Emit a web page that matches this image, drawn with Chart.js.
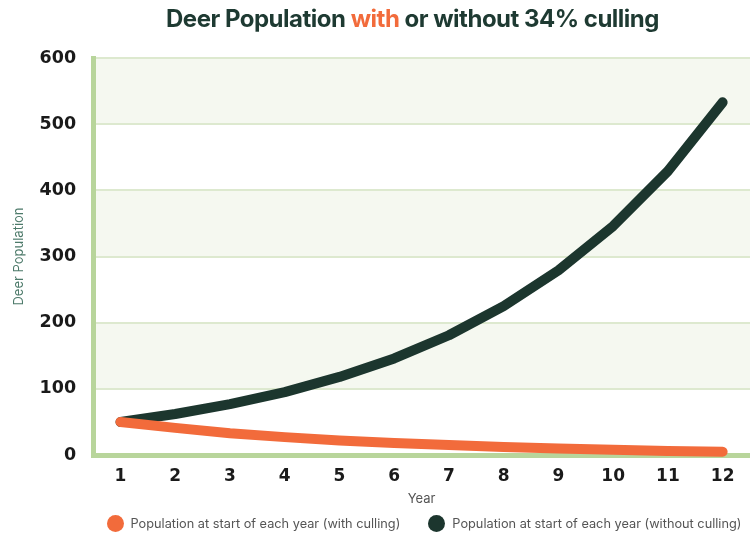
<!DOCTYPE html>
<html>
<head>
<meta charset="utf-8">
<script src="https://cdn.jsdelivr.net/npm/chart.js@4.4.1/dist/chart.umd.min.js"></script>
<style>
  body { margin: 0; background: #fff; }
  #wrap { position: relative; width: 750px; height: 535px; overflow: hidden; }
  #title {
    position: absolute; top: 4px; left: 80px; width: 665px; text-align: center;
    font: bold 24px Inter, "DejaVu Sans", sans-serif; color: #1e3a32; letter-spacing: -0.5px;
  }
  #title span { color: #f26b3b; }
  canvas { position: absolute; top: 0; left: 0; }
  #legend {
    position: absolute; top: 515px; left: 96px; width: 656px;
    display: flex; justify-content: center; gap: 28px;
    font: 12.75px Inter, "DejaVu Sans", sans-serif; color: #555;
  }
  #legend .item { display: flex; align-items: center; white-space: nowrap; }
  #legend .dot { width: 17px; height: 17px; border-radius: 50%; margin-right: 7px; }
</style>
</head>
<body>
<div id="wrap">
  <canvas id="deerChart" width="750" height="535"></canvas>
  <div id="title">Deer Population <span>with</span> or without 34% culling</div>
  <div id="legend"></div>
</div>
<script>
// chart data
const years = ["1", "2", "3", "4", "5", "6", "7", "8", "9", "10", "11", "12"];
const withCulling = [50, 41, 33, 27, 22, 18, 15, 12, 10, 8, 6, 5];
const withoutCulling = [50, 62, 77, 95, 118, 146, 181, 225, 279, 346, 429, 533];
const seriesLabels = [
  "Population at start of each year (with culling)",
  "Population at start of each year (without culling)"
];

const orange = "#f26b3b";
const darkGreen = "#1c362e";
const axisGreen = "#b8d59b";
const gridGreen = "#dde9cf";
const bandGreen = "#f5f8f0";
const smallFont = "Inter, 'DejaVu Sans', sans-serif";

// alternating background bands behind the plot
const bands = {
  id: "bands",
  beforeDraw(chart) {
    const { ctx, chartArea, scales } = chart;
    const y = scales.y;
    ctx.save();
    ctx.fillStyle = bandGreen;
    for (let v = 100; v < 600; v += 200) {
      const top = y.getPixelForValue(v + 100);
      const bottom = y.getPixelForValue(v);
      ctx.fillRect(chartArea.left, top, chartArea.right - chartArea.left, bottom - top);
    }
    ctx.restore();
  }
};

function lineSet(label, data, color) {
  return {
    label: label,
    data: data,
    borderColor: color,
    backgroundColor: color,
    borderWidth: 10,
    borderCapStyle: "round",
    borderJoinStyle: "round",
    pointRadius: 0,
    tension: 0,
    clip: false
  };
}

const chart = new Chart(document.getElementById("deerChart"), {
  type: "line",
  data: {
    labels: years,
    datasets: [
      lineSet(seriesLabels[0], withCulling, orange),
      lineSet(seriesLabels[1], withoutCulling, darkGreen)
    ]
  },
  options: {
    responsive: false,
    animation: false,
    layout: { padding: { top: 58, right: 0, left: 5, bottom: 28 } },
    plugins: {
      legend: { display: false },
      tooltip: { enabled: false }
    },
    scales: {
      x: {
        offset: true,
        grid: { display: false, drawTicks: false },
        border: { color: axisGreen, width: 5 },
        ticks: {
          color: "#1a1a1a",
          padding: 11,
          font: { family: "'DejaVu Sans', sans-serif", size: 17, weight: "bold" }
        },
        title: {
          display: true,
          text: "Year",
          color: "#555",
          padding: { top: -6, bottom: 0 },
          font: { family: smallFont, size: 13 }
        }
      },
      y: {
        min: 0,
        max: 600,
        ticks: {
          stepSize: 100,
          color: "#1a1a1a",
          padding: 17,
          font: { family: "'DejaVu Sans', sans-serif", size: 17.5, weight: "bold" }
        },
        grid: { color: gridGreen, lineWidth: 2, drawTicks: false },
        border: { color: axisGreen, width: 5 },
        title: {
          display: true,
          text: "Deer Population",
          color: "#4d7a6a",
          padding: { top: 6, bottom: -4 },
          font: { family: smallFont, size: 13 }
        }
      }
    }
  },
  plugins: [bands]
});

// legend below the chart, built from the datasets
const legendBox = document.getElementById("legend");
chart.data.datasets.forEach((ds) => {
  const item = document.createElement("div");
  item.className = "item";
  item.innerHTML = `<span class="dot" style="background:${ds.borderColor}"></span>${ds.label}`;
  legendBox.appendChild(item);
});
</script>
</body>
</html>
